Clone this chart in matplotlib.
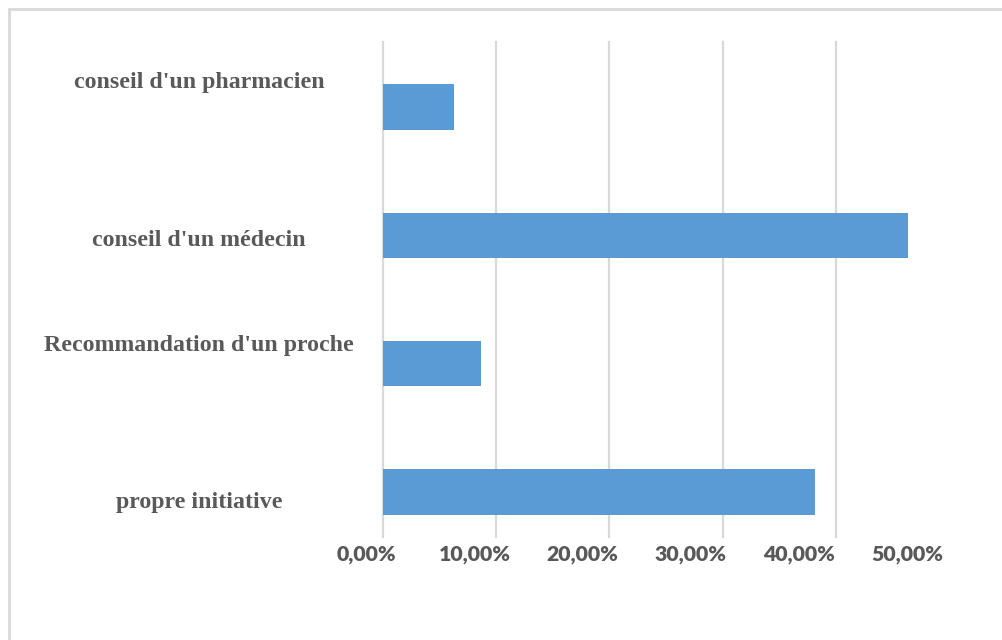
import matplotlib
matplotlib.use("Agg")
import matplotlib.pyplot as plt
import matplotlib.transforms as mtransforms
from matplotlib.patches import Rectangle

# Source of recommendation (share of respondents), bottom to top
categories = ["propre initiative", "Recommandation d'un proche",
              "conseil d'un médecin", "conseil d'un pharmacien"]
shares = [0.382, 0.087, 0.464, 0.063]
tick_values = [0.0, 0.1, 0.2, 0.3, 0.4, 0.5]
tick_labels = ["0,00%", "10,00%", "20,00%", "30,00%", "40,00%", "50,00%"]

W, H = 1003, 640
fig = plt.figure(figsize=(W / 100, H / 100), dpi=100)
fig.patch.set_facecolor("white")

# thin grey frame around the chart area
fig.patches.append(Rectangle((9 / W, -0.01), 1.02, 1 - 9 / H + 0.01,
                             transform=fig.transFigure, fill=False,
                             edgecolor="#d9d9d9", lw=2))

# main plot area: x=0 at px 383, 10% = 113.2 px, spans y 42..537
left = 383 / W
width = 5 * 113.2 / W
bottom = (H - 537) / H
height = (537 - 42) / H
ax = fig.add_axes([left, bottom, width, height])
ypos = list(range(len(categories)))
ax.barh(ypos, shares, height=0.355, color="#5b9bd5", zorder=3)
ax.set_xlim(0, 0.5)
ax.set_ylim(-0.352, 3.508)
ax.set_xticks(tick_values[:-1])
ax.set_xticklabels([])
ax.set_yticks([])
ax.tick_params(length=0)
ax.grid(axis="x", color="#d9d9d9", lw=1.6, zorder=0)
for gl in ax.get_xgridlines():
    gl.set_clip_on(False)
for s in ax.spines.values():
    s.set_visible(False)

# category labels, centred left of the bars
label_shift = [-0.086, 0.14, -0.04, 0.19]
trans = mtransforms.blended_transform_factory(fig.transFigure, ax.transData)
for y, name, dy in zip(ypos, categories, label_shift):
    ax.text(199 / W, y + dy, name, transform=trans, ha="center", va="center",
            family="Liberation Serif", fontweight="bold", fontsize=17.2,
            color="#595959")

# percentage scale below the plot
ax2 = fig.add_axes([366.6 / W, (H - 554) / H, (907 - 366.6) / W, 0.0001])
ax2.set_xlim(0, 0.5)
ax2.set_xticks(tick_values)
ax2.set_xticklabels(tick_labels, family="Lato", fontweight="heavy",
                    fontsize=15.3, color="#595959")
ax2.set_yticks([])
ax2.tick_params(length=0, pad=0)
plt.setp(ax2.get_xticklabels(), va="center")
for s in ax2.spines.values():
    s.set_visible(False)
ax2.patch.set_visible(False)

fig.savefig("out.png", dpi=100)
